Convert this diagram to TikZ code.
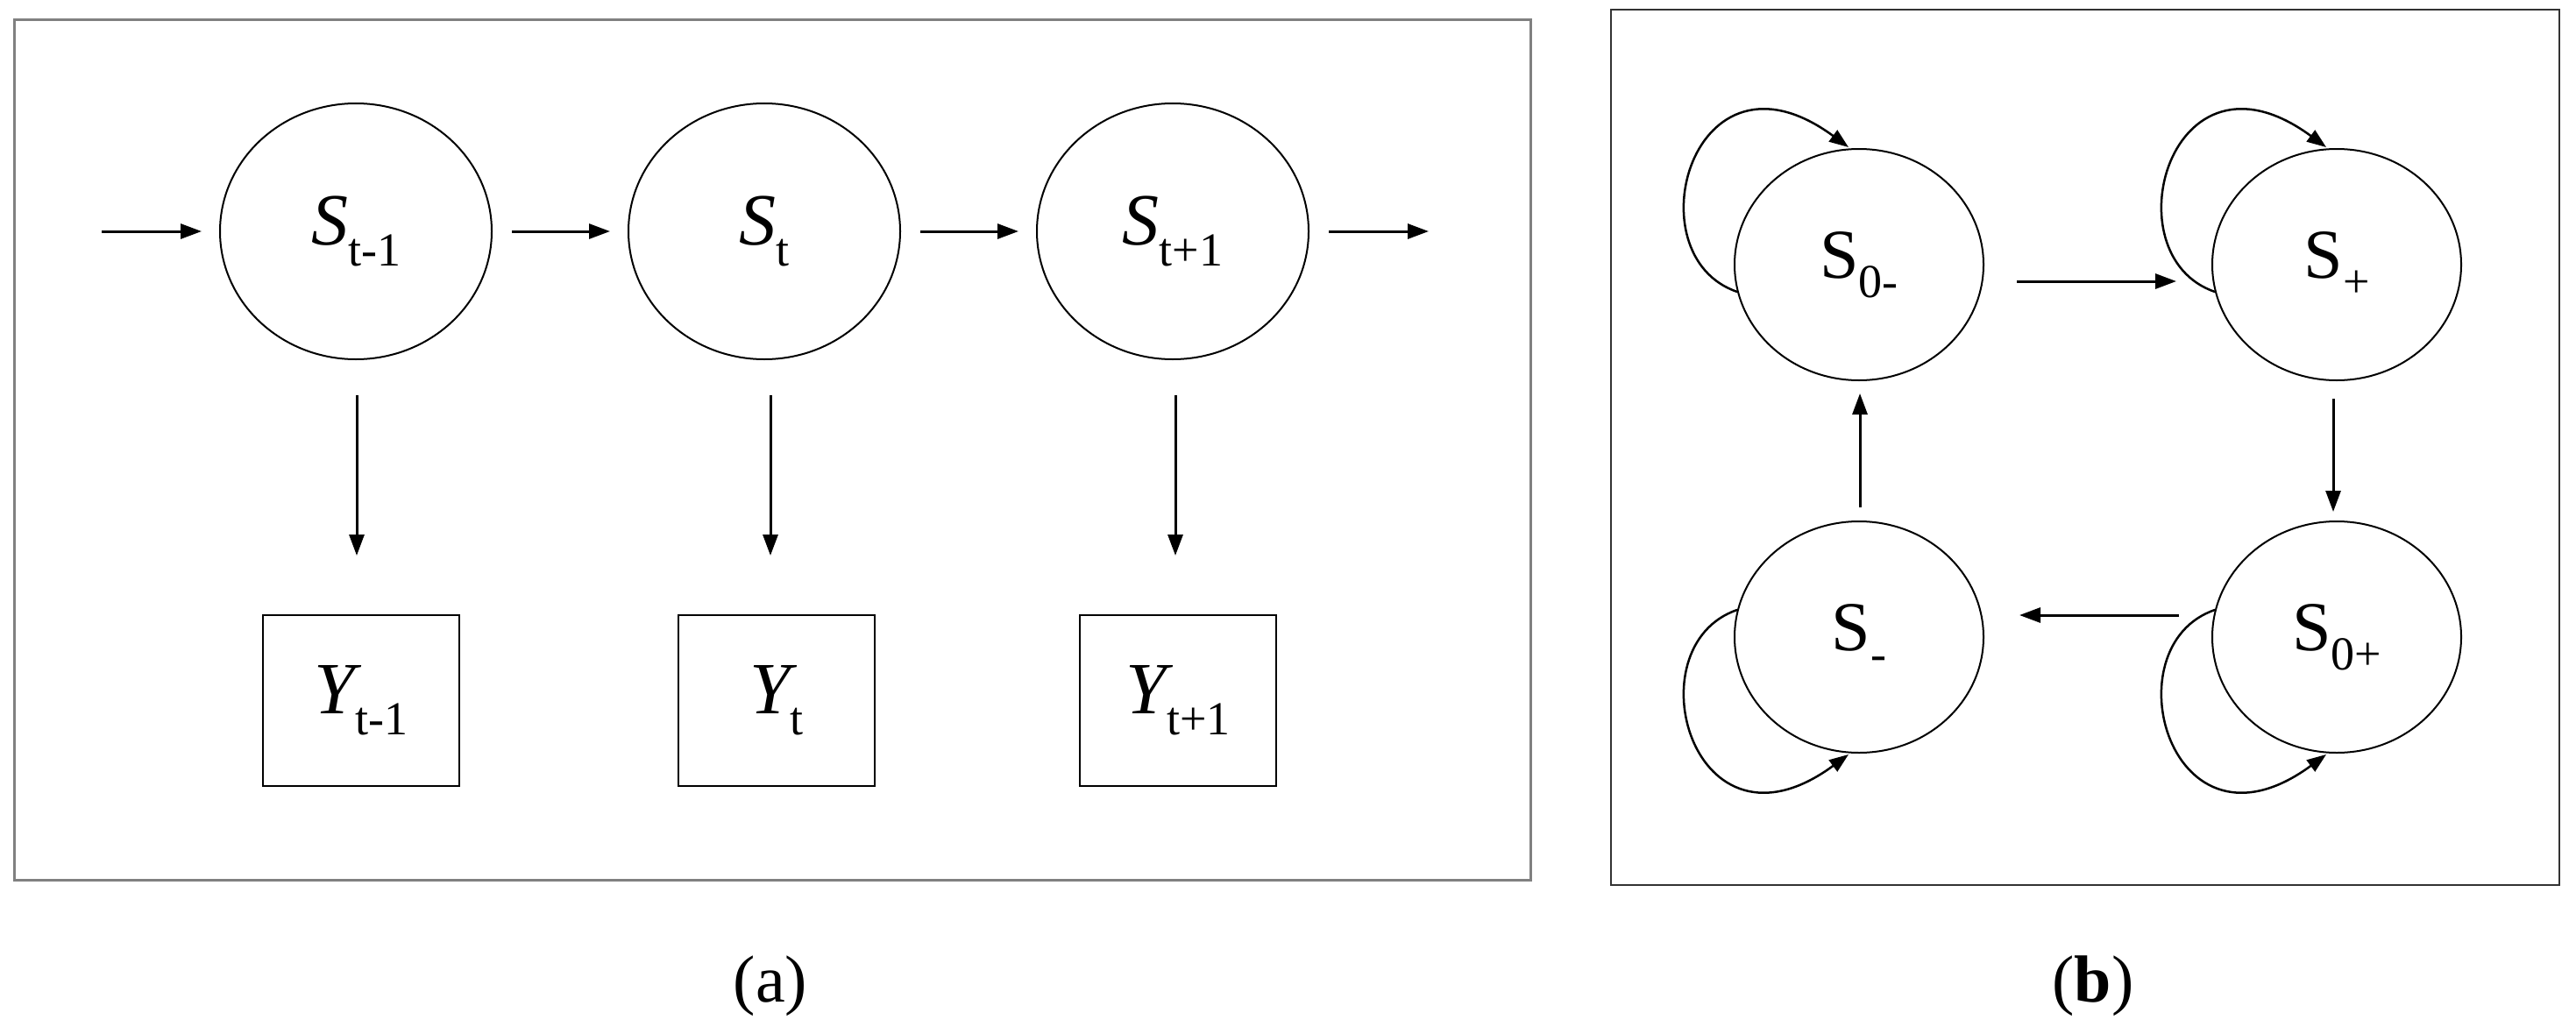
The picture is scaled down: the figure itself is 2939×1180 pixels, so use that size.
\documentclass[tikz,border=0pt]{standalone}
\usepackage{fontspec}
\setmainfont{Liberation Serif}
\usetikzlibrary{shapes.geometric,arrows.meta}
\newcommand{\mylbl}[3]{{#1#2}\raisebox{-0.28em}{\fontsize{54}{54}\selectfont #3}}
\begin{document}
\begin{tikzpicture}[x=1pt,y=-1pt,
  st/.style={ellipse,draw,line width=2pt,inner sep=0pt,minimum width=310pt,minimum height=292pt,font=\fontsize{84}{84}\selectfont},
  sb/.style={ellipse,draw,line width=2pt,inner sep=0pt,minimum width=284pt,minimum height=264pt,font=\fontsize{80}{80}\selectfont},
  bx/.style={rectangle,draw,line width=2pt,inner sep=0pt,minimum width=224pt,minimum height=195pt,font=\fontsize{84}{84}\selectfont},
  ar/.style={line width=3pt,-{Triangle[length=24pt,width=17pt]}},
  lp/.style={line width=2.5pt,-{Triangle[length=22pt,width=16pt]}},
  captxt/.style={font=\fontsize{76}{76}\selectfont}]
\useasboundingbox (0,0) rectangle (2939,1180);
% left frame
\node[draw=gray,line width=3pt,minimum width=1730pt,minimum height=981pt,inner sep=0pt] (fa) at (881,513.5) {};
\node[st] (s1) at (406,264) {\mylbl{\itshape}{S}{t-1}};
\node[st] (s2) at (872,264) {\mylbl{\itshape}{S}{t}};
\node[st] (s3) at (1338,264) {\mylbl{\itshape}{S}{t+1}};
\node[bx] (y1) at (412,799) {\mylbl{\itshape}{Y}{t-1}};
\node[bx] (y2) at (886,799) {\mylbl{\itshape}{Y}{t}};
\node[bx] (y3) at (1344,799) {\mylbl{\itshape}{Y}{t+1}};
\coordinate (in) at (116,264);
\coordinate (out) at (1630,264);
\draw[ar,shorten >=20pt] (in) -- (s1);
\draw[ar,shorten <=22pt,shorten >=20pt] (s1) -- (s2);
\draw[ar,shorten <=22pt,shorten >=20pt] (s2) -- (s3);
\draw[ar,shorten <=22pt] (s3) -- (out);
\draw[ar] ([shift={(1,187)}]s1.center) -- ([shift={(-5,-165)}]y1.center);
\draw[ar] ([shift={(7,187)}]s2.center) -- ([shift={(-7,-165)}]y2.center);
\draw[ar] ([shift={(3,187)}]s3.center) -- ([shift={(-3,-165)}]y3.center);
\node[captxt] (la) at (879,1125) {(a)};
% right frame
\node[draw=black!80,line width=2.5pt,minimum width=1082pt,minimum height=999pt,inner sep=0pt] (fb) at (2379,510.5) {};
\node[sb] (a) at (2121,302) {\mylbl{}{S}{0-}};
\node[sb] (b) at (2666,302) {\mylbl{}{S}{+}};
\node[sb] (c) at (2121,727) {\mylbl{}{S}{-}};
\node[sb] (d) at (2666,727) {\mylbl{}{S}{0+}};
\draw[ar] ([shift={(180,19)}]a.center) -- ([shift={(-183,19)}]b.center);
\draw[ar] ([shift={(-4,153)}]b.center) -- ([shift={(-4,-143)}]d.center);
\draw[ar] ([shift={(-180,-25)}]d.center) -- ([shift={(183,-25)}]c.center);
\draw[ar] ([shift={(1,-148)}]c.center) -- ([shift={(1,147)}]a.center);
\foreach \n in {a,b}{
  \draw[lp] ([shift={(-139,31)}]\n.center) .. controls ([shift={(-260,-10)}]\n.center) and ([shift={(-190,-265)}]\n.center) .. ([shift={(-12,-134)}]\n.center);}
\foreach \n in {c,d}{
  \draw[lp] ([shift={(-139,-31)}]\n.center) .. controls ([shift={(-260,10)}]\n.center) and ([shift={(-190,265)}]\n.center) .. ([shift={(-12,134)}]\n.center);}
\node[captxt] (lb) at (2388,1125) {(\textbf{b})};
\end{tikzpicture}
\end{document}
